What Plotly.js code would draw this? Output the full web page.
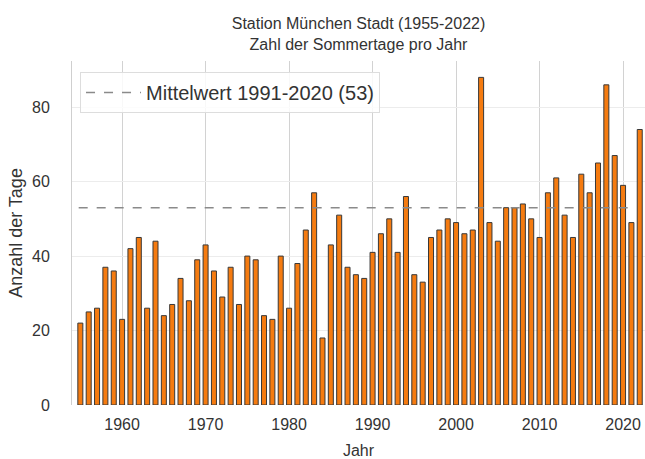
<!DOCTYPE html>
<html>
<head>
<meta charset="utf-8">
<script src="https://cdn.plot.ly/plotly-3.0.1.min.js"></script>
<style>
  html, body { margin: 0; padding: 0; background: #fff; }
  #chart { width: 645px; height: 459px; }
</style>
</head>
<body>
<div id="chart"></div>
<script>
const years = [1955,1956,1957,1958,1959,1960,1961,1962,1963,1964,1965,1966,1967,1968,1969,
  1970,1971,1972,1973,1974,1975,1976,1977,1978,1979,1980,1981,1982,1983,1984,1985,1986,1987,1988,1989,
  1990,1991,1992,1993,1994,1995,1996,1997,1998,1999,2000,2001,2002,2003,2004,2005,2006,2007,2008,2009,
  2010,2011,2012,2013,2014,2015,2016,2017,2018,2019,2020,2021,2022];
const summerDays = [22,25,26,37,36,23,42,45,26,44,24,27,34,28,39,
  43,36,29,37,27,40,39,24,23,40,26,38,47,57,18,43,51,37,35,34,
  41,46,50,41,56,35,33,45,47,50,49,46,47,88,49,44,53,53,54,50,
  45,57,61,51,45,62,57,65,86,67,59,49,74];
const meanValue = 53;
const meanSpan = [1954.8, 2021.2];
const meanLabel = "Mittelwert 1991-2020 (53)";
const tickYears = [1960,1970,1980,1990,2000,2010,2020];
const titleText = "Station München Stadt (1955-2022)<br>Zahl der Sommertage pro Jahr";

const font = "Liberation Sans, Arial, sans-serif";

const bars = {
  type: "bar",
  x: years,
  y: summerDays,
  width: 0.6,
  marker: { color: "#f57b10", line: { color: "#383838", width: 1 } },
  showlegend: false,
  hoverinfo: "x+y"
};
const meanTrace = {
  type: "scatter",
  mode: "lines",
  x: meanSpan,
  y: [meanValue, meanValue],
  line: { color: "#8a8a8a", width: 1.5, dash: "dash" },
  name: meanLabel
};

const layout = {
  width: 645, height: 459,
  margin: { l: 72, r: 0, t: 61, b: 54 },
  paper_bgcolor: "#ffffff",
  plot_bgcolor: "#ffffff",
  font: { family: font, size: 16, color: "#333333" },
  title: {
    text: titleText,
    font: { family: font, size: 16, color: "#333333" },
    x: 0.5, xref: "paper", xanchor: "center",
    y: 0.937, yref: "container", yanchor: "top"
  },
  xaxis: {
    range: [1954.0, 2022.63],
    tickvals: tickYears,
    ticks: "outside", ticklen: 5, tickcolor: "rgba(0,0,0,0)",
    showgrid: true, gridcolor: "#d2d2d2", gridwidth: 1,
    zeroline: false, showline: false,
    tickfont: { family: font, size: 16, color: "#333333" },
    title: { text: "Jahr", font: { family: font, size: 16, color: "#333333" }, standoff: 12 }
  },
  yaxis: {
    range: [0, 92.4],
    tickvals: [0, 20, 40, 60, 80],
    ticks: "outside", ticklen: 18, tickcolor: "rgba(0,0,0,0)",
    showgrid: true, gridcolor: "#ececec", gridwidth: 1,
    zeroline: false, showline: true, linecolor: "#cfcfcf", linewidth: 1,
    tickfont: { family: font, size: 16, color: "#333333" },
    title: { text: "Anzahl der Tage", font: { family: font, size: 18, color: "#333333" }, standoff: 4 }
  },
  legend: {
    x: 0.014, y: 0.968, xanchor: "left", yanchor: "top",
    bgcolor: "rgba(255,255,255,0.85)", bordercolor: "#dddddd", borderwidth: 1,
    itemwidth: 55,
    font: { family: font, size: 20, color: "#333333" }
  },
  showlegend: true
};

Plotly.newPlot("chart", [bars, meanTrace], layout, { staticPlot: true, displayModeBar: false });
</script>
</body>
</html>
